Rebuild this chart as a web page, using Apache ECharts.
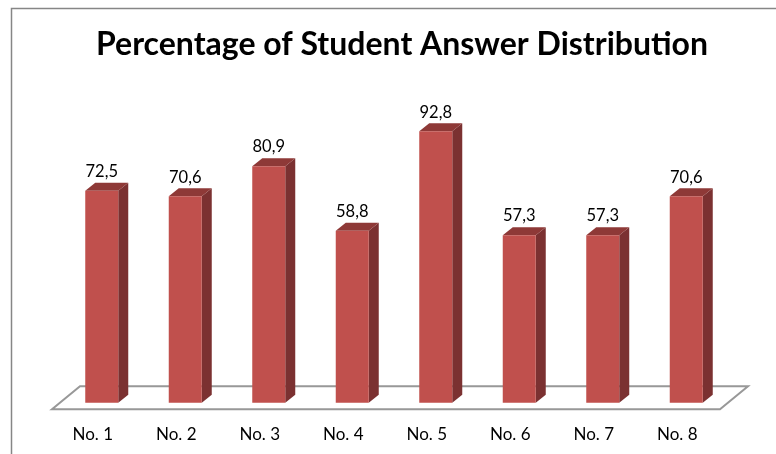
<!DOCTYPE html>
<html><head><meta charset="utf-8">
<script src="https://cdn.jsdelivr.net/npm/echarts@6/dist/echarts.min.js"></script>
<style>html,body{margin:0;padding:0;background:#fff}#c{width:776px;height:454px}</style>
</head><body><div id="c"></div>
<script>
const categories = ['No. 1','No. 2','No. 3','No. 4','No. 5','No. 6','No. 7','No. 8'];
const values = [72.5, 70.6, 80.9, 58.8, 92.8, 57.3, 57.3, 70.6];
const valueLabels = ['72,5','70,6','80,9','58,8','92,8','57,3','57,3','70,6'];

const chart = echarts.init(document.getElementById('c'), null, {renderer:'canvas'});
const BW = 33, DX = 10, DY = 8;
chart.setOption({
  animation:false,
  title:{text:'Percentage of Student Answer Distribution', left:96, top:29, padding:0,
    textStyle:{fontFamily:'Lato', fontWeight:'bold', fontSize:32, color:'#000'}},
  graphic:[{type:'rect', shape:{x:11.5,y:8.5,width:800,height:500}, style:{fill:'none', stroke:'#868686', lineWidth:1.5}, silent:true, z:-10}],
  grid:{left:60, width:668, top:110.3, height:292.4},
  xAxis:{type:'category', data:categories, axisLine:{show:false}, axisTick:{show:false},
    axisLabel:{margin:23, padding:[0,18,0,0], fontFamily:'Lato', fontSize:17, color:'#000'}},
  yAxis:{type:'value', min:0, max:100, show:false, splitLine:{show:false}},
  series:[
    {type:'custom', z:1, data:[[0,0]], renderItem:function(params, api){
      const cs = params.coordSys;
      const yb = cs.y + cs.height;
      const x0 = cs.x - 8, x1 = cs.x + cs.width - 8;
      const pts = [[x0,yb+6.5],[x1,yb+6.5],[x1+28,yb-16.5],[x0+28,yb-16.5]];
      return {type:'polygon', shape:{points:pts}, style:{fill:'#fff', stroke:'#989898', lineWidth:2}};
    }},
    {type:'custom', z:2, data:values.map((v,i)=>[i,v]), renderItem:function(params, api){
      const i = api.value(0), v = api.value(1);
      const top = api.coord([i, v]);
      const bot = api.coord([i, 0]);
      const xl = top[0] - BW/2, xr = top[0] + BW/2;
      const yt = top[1], yb = bot[1];
      return {type:'group', children:[
        {type:'polygon', shape:{points:[[xr,yt],[xr+DX,yt-DY],[xr+DX,yb-DY],[xr,yb]]}, style:{fill:'#7B3131'}},
        {type:'polygon', shape:{points:[[xl,yt],[xr,yt],[xr+DX,yt-DY],[xl+DX,yt-DY]]}, style:{fill:'#8E3937'}},
        {type:'rect', shape:{x:xl, y:yt, width:BW, height:yb-yt}, style:{fill:'#C0504D'}},
        {type:'text', x:top[0], y:yt-19, style:{text:valueLabels[i], align:'center', verticalAlign:'middle', font:'16.5px Lato', fill:'#000'}}
      ]};
    }}
  ]
});
</script></body></html>
